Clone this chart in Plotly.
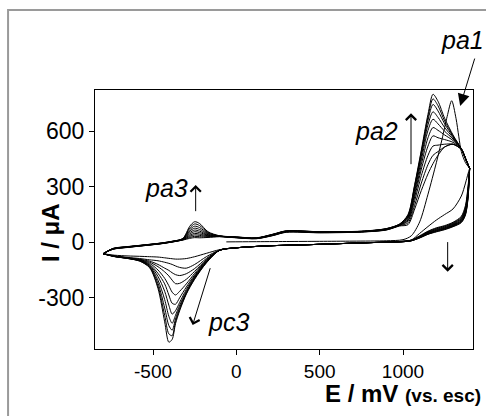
import plotly.graph_objects as go

# ---------------- data ----------------
# forward scan potentials (cycles 2-11), mV
E_fwd = [-800, -740, -650, -550, -450, -380, -320, -280, -250, -220, -170, -100, 0, 120, 220, 300,
         500, 750, 900, 980, 1030, 1070, 1110, 1150, 1180, 1210, 1250, 1300, 1350, 1380, 1400]
# reverse scan potentials (all cycles), mV
E_rev = [1400, 1390, 1375, 1350, 1300, 1250, 1200, 1150, 1100, 1050, 1000, 800, 600, 400, 200, 0,
         -100, -180, -250, -300, -340, -365, -385, -405, -430, -470, -520, -580, -650, -730, -800]

# first forward scan (starts at -60 mV), pa1 peak
E_fwd_1 = [-60, 100, 300, 500, 700, 900, 1000, 1050, 1100, 1150, 1200, 1235, 1265, 1292, 1318, 1335, 1350, 1375, 1400]
I_fwd_1 = [2, 3, 4, 5, 6, 8, 14, 35, 110, 260, 430, 560, 680, 765, 670, 570, 490, 430, 400]

# forward currents, uA
I_fwd_2 = [-62, -38, -28, -18, -8, 2, 12, 21, 25, 24, 26, 30, 24, 19, 36, 54, 51, 55, 66, 88, 95, 180, 280, 370, 425, 470, 515, 530, 500, 440, 400]
I_fwd_3 = [-62, -37, -27, -18, -8, 2, 13, 26, 32, 30, 29, 31, 25, 20, 37, 55, 52, 56, 67, 90, 105, 200, 320, 420, 470, 490, 515, 530, 502, 442, 400]
I_fwd_4 = [-62, -37, -27, -17, -7, 3, 14, 32, 40, 37, 32, 31, 25, 20, 38, 56, 53, 56, 68, 92, 115, 225, 360, 470, 520, 525, 530, 530, 503, 442, 400]
I_fwd_5 = [-62, -36, -26, -17, -7, 3, 15, 38, 48, 44, 35, 32, 26, 21, 39, 57, 53, 57, 69, 93, 120, 245, 395, 520, 575, 565, 555, 540, 505, 443, 400]
I_fwd_6 = [-62, -36, -26, -16, -6, 4, 16, 45, 57, 52, 38, 32, 26, 21, 40, 58, 54, 57, 70, 94, 127, 260, 420, 565, 620, 605, 580, 550, 505, 443, 400]
I_fwd_7 = [-62, -35, -25, -16, -6, 4, 17, 52, 66, 60, 41, 33, 27, 22, 41, 59, 55, 58, 71, 95, 133, 275, 445, 605, 665, 640, 600, 558, 505, 442, 400]
I_fwd_8 = [-62, -35, -25, -15, -5, 5, 18, 60, 76, 69, 45, 33, 27, 22, 42, 60, 56, 58, 72, 96, 138, 288, 465, 635, 705, 675, 620, 565, 505, 442, 400]
I_fwd_9 = [-62, -34, -24, -15, -5, 5, 19, 68, 87, 79, 49, 34, 28, 23, 42, 61, 56, 59, 73, 97, 142, 298, 480, 660, 745, 710, 640, 570, 505, 441, 400]
I_fwd_10 = [-62, -34, -24, -14, -4, 6, 20, 77, 99, 90, 53, 34, 28, 23, 43, 61, 57, 59, 73, 98, 146, 306, 490, 678, 775, 738, 655, 575, 505, 440, 400]
I_fwd_11 = [-62, -33, -23, -14, -4, 6, 21, 86, 111, 101, 57, 35, 29, 24, 44, 62, 57, 60, 74, 99, 150, 312, 498, 692, 800, 762, 670, 580, 505, 440, 400]

# reverse currents, uA
I_rev_1 = [400, 370, 320, 250, 180, 150, 120, 85, 48, 12, 6, -2, -8, -14, -19, -30, -40, -60, -78, -88, -91, -91, -89, -87, -84, -80, -78, -76, -74, -70, -62]
I_rev_2 = [400, 300, 200, 140, 108, 90, 78, 60, 35, 12, 5, -2, -8, -14, -19, -30, -43, -78, -120, -140, -136, -128, -120, -114, -108, -100, -95, -88, -82, -74, -62]
I_rev_3 = [400, 290, 190, 135, 104, 87, 75, 57, 33, 11, 5, -2, -8, -14, -19, -30, -43, -88, -142, -170, -180, -175, -165, -152, -140, -120, -102, -92, -84, -75, -62]
I_rev_4 = [400, 280, 182, 130, 101, 84, 72, 54, 31, 11, 4, -2, -8, -14, -19, -30, -43, -94, -157, -200, -222, -224, -205, -182, -160, -132, -108, -94, -85, -75, -62]
I_rev_5 = [400, 272, 175, 126, 98, 81, 69, 52, 29, 10, 4, -2, -8, -14, -19, -30, -43, -98, -168, -225, -265, -285, -270, -235, -195, -150, -114, -96, -85, -76, -62]
I_rev_6 = [400, 265, 170, 122, 95, 78, 66, 50, 28, 10, 4, -2, -8, -14, -19, -30, -43, -101, -177, -242, -300, -335, -330, -285, -225, -168, -120, -97, -86, -76, -62]
I_rev_7 = [400, 258, 165, 118, 92, 76, 64, 48, 27, 9, 3, -2, -8, -14, -19, -30, -43, -104, -183, -255, -325, -370, -388, -340, -265, -185, -124, -98, -86, -76, -62]
I_rev_8 = [400, 252, 160, 115, 90, 74, 62, 46, 26, 9, 3, -2, -8, -14, -19, -30, -43, -106, -188, -265, -340, -395, -438, -400, -310, -205, -128, -99, -87, -77, -62]
I_rev_9 = [400, 246, 156, 112, 88, 72, 60, 45, 25, 8, 3, -2, -8, -14, -19, -30, -43, -108, -192, -272, -352, -415, -475, -450, -355, -222, -132, -100, -87, -77, -62]
I_rev_10 = [400, 240, 152, 109, 86, 70, 58, 44, 24, 8, 3, -2, -8, -14, -19, -30, -43, -110, -196, -277, -362, -430, -505, -495, -395, -238, -135, -101, -88, -77, -62]
I_rev_11 = [400, 235, 148, 106, 84, 68, 56, 43, 23, 8, 3, -2, -8, -14, -19, -30, -43, -112, -200, -280, -370, -440, -525, -540, -430, -250, -138, -102, -88, -78, -62]

x_ticks = [-500, 0, 500, 1000]
x_ticklabels = ["-500", "0", "500", "1000"]
y_ticks = [-300, 0, 300, 600]
y_ticklabels = ["-300", "0", "300", "600"]

# ---------------- figure ----------------
fig = go.Figure()
line = dict(color="black", width=1, shape="spline", smoothing=0.8)

forward = [(E_fwd_1, I_fwd_1)] + [(E_fwd, I) for I in
           [I_fwd_2, I_fwd_3, I_fwd_4, I_fwd_5, I_fwd_6, I_fwd_7, I_fwd_8, I_fwd_9, I_fwd_10, I_fwd_11]]
reverse = [(E_rev, I) for I in
           [I_rev_1, I_rev_2, I_rev_3, I_rev_4, I_rev_5, I_rev_6, I_rev_7, I_rev_8, I_rev_9, I_rev_10, I_rev_11]]

for E, I in forward + reverse:
    fig.add_trace(go.Scatter(x=E, y=I, mode="lines", line=line, showlegend=False, hoverinfo="skip"))

FONT = "Liberation Sans, Arial, sans-serif"

def arrow(hx, hy, tx, ty):
    fig.add_annotation(x=hx, y=hy, ax=tx, ay=ty, xref="x", yref="y", axref="x", ayref="y",
                       text="", showarrow=True, arrowhead=4, arrowsize=2.0, arrowwidth=1,
                       arrowcolor="black")

arrow(-244, 310, -244, 160)     # pa3
arrow(1048, 697, 1048, 414)     # pa2
arrow(1268, -159, 1268, 9)      # reverse decrease
arrow(-262, -447, -154, -132)   # pc3

# pa1 arrow (filled head)
fig.add_annotation(x=0.966, y=0.938, xref="paper", yref="paper", ax=15, ay=-49, text="",
                   showarrow=True, arrowhead=2, arrowsize=2.4, arrowwidth=1, arrowcolor="black")

labels = [("pa1", 0.9735, 1.193), ("pa2", 0.746, 0.842), ("pa3", 0.188, 0.622), ("pc3", 0.354, 0.104)]
for t, x, y in labels:
    fig.add_annotation(x=x, y=y, xref="paper", yref="paper", text="<i>%s</i>" % t, showarrow=False,
                       font=dict(family=FONT, size=25, color="black"), xanchor="center", yanchor="middle")

fig.add_annotation(x=1.026, y=-0.170, xref="paper", yref="paper", xanchor="right", yanchor="middle",
                   text="<b>E / mV <span style='font-size:19px'>(vs. esc)</span></b>", showarrow=False,
                   font=dict(family=FONT, size=24, color="black"))
fig.add_annotation(x=-0.157, y=0.448, xref="paper", yref="paper", textangle=-90,
                   text="<b>I / μA</b>", showarrow=False, font=dict(family=FONT, size=24, color="black"))

# outer grey frame
fig.add_shape(type="rect", xref="paper", yref="paper", x0=-0.230, y0=-0.30, x1=1.06, y1=1.309,
              line=dict(color="#9a9a9a", width=2), layer="below")

fig.update_layout(
    width=486, height=416,
    margin=dict(l=95, r=13, t=90, b=67),
    paper_bgcolor="white", plot_bgcolor="white",
    font=dict(family=FONT, size=19, color="black"),
    xaxis=dict(range=[-848, 1420], tickvals=x_ticks, ticktext=x_ticklabels, ticks="outside", ticklen=5,
               tickcolor="black", showline=True, linecolor="black", linewidth=1, mirror=True,
               showgrid=False, zeroline=False, tickfont=dict(family=FONT, size=19)),
    yaxis=dict(range=[-577, 823], tickvals=y_ticks, ticktext=y_ticklabels, ticks="outside", ticklen=5,
               tickcolor="black", showline=True, linecolor="black", linewidth=1, mirror=True,
               showgrid=False, zeroline=False, tickfont=dict(family=FONT, size=23)),
)

fig.write_html("out.html", config={"displayModeBar": False},
               post_script="document.body.style.margin='0';document.body.style.overflow='hidden';")
